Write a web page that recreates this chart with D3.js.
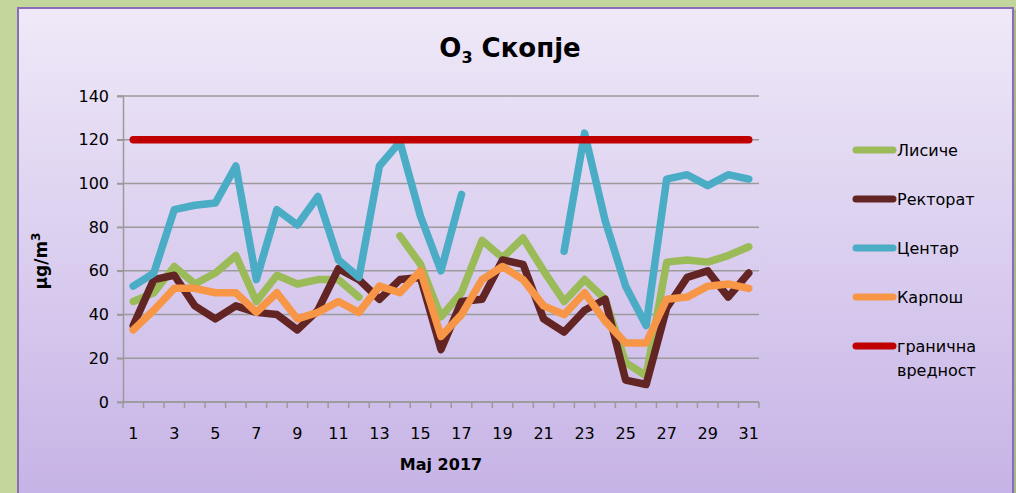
<!DOCTYPE html>
<html>
<head>
<meta charset="utf-8">
<script src="https://cdn.jsdelivr.net/npm/d3@7"></script>
<style>
  html, body { margin: 0; padding: 0; background: #c3d69b; }
  svg { display: block; }
</style>
</head>
<body>
<svg></svg>
<script>
var days = d3.range(1, 32);
var yTicks = [0, 20, 40, 60, 80, 100, 120, 140];

var lisice = [46, 50, 62, 54, 59, 67, 46, 58, 54, 56, 56, 48, null, 76, 63, 39, 50, 74, 66, 75, 60, 46, 56, 47, 18, 12, 64, 65, 64, 67, 71];
var rektorat = [35, 56, 58, 44, 38, 44, 41, 40, 33, 42, 61, 56, 47, 56, 57, 24, 46, 47, 65, 63, 38, 32, 42, 47, 10, 8, 43, 57, 60, 48, 59];
var centar = [53, 59, 88, 90, 91, 108, 56, 88, 81, 94, 65, 57, 108, 119, 85, 60, 95, null, null, null, null, 69, 123, 83, 53, 35, 102, 104, 99, 104, 102];
var karpos = [33, 42, 52, 52, 50, 50, 41, 50, 38, 41, 46, 41, 53, 50, 60, 30, 40, 56, 62, 56, 44, 40, 50, 37, 27, 27, 47, 48, 53, 54, 52];
var granica = days.map(function() { return 120; });

var seriesNames = ["Лисиче", "Ректорат", "Центар", "Карпош", "гранична вредност"];
var seriesColors = ["#9bbb59", "#632523", "#4bacc6", "#f79646", "#c00000"];
var seriesValues = [lisice, rektorat, centar, karpos, granica];

var width = 1016;
var height = 493;
var plot = { left: 123, right: 759, top: 96, bottom: 402 };

var svg = d3.select("svg")
    .attr("width", width)
    .attr("height", height);

var defs = svg.append("defs");
var grad = defs.append("linearGradient")
    .attr("id", "bg")
    .attr("x1", 0).attr("y1", 0).attr("x2", 0).attr("y2", 1);
grad.append("stop").attr("offset", "0%").attr("stop-color", "#efe9f8");
grad.append("stop").attr("offset", "100%").attr("stop-color", "#c6b3e6");

// chart frame
svg.append("rect")
    .attr("x", 20).attr("y", 10)
    .attr("width", 996).attr("height", 490)
    .attr("fill", "#a9b88a");
svg.append("rect")
    .attr("x", 18).attr("y", 8)
    .attr("width", 995).attr("height", 490)
    .attr("fill", "url(#bg)")
    .attr("stroke", "#8a6cbb")
    .attr("stroke-width", 2);

var xScale = d3.scaleBand()
    .domain(days)
    .range([plot.left, plot.right]);

var yScale = d3.scaleLinear()
    .domain([0, 140])
    .range([plot.bottom, plot.top]);

// gridlines
svg.append("g")
  .selectAll("line")
  .data(yTicks)
  .enter()
  .append("line")
    .attr("x1", plot.left - 6)
    .attr("x2", plot.right)
    .attr("y1", d => yScale(d))
    .attr("y2", d => yScale(d))
    .attr("stroke", "#9a9a9a")
    .attr("stroke-width", 1.5);

var yAxis = d3.axisLeft(yScale)
    .tickValues(yTicks)
    .tickSize(6)
    .tickPadding(8);

var gy = svg.append("g")
    .attr("transform", "translate(" + plot.left + ",0)")
    .call(yAxis);
gy.select(".domain").attr("stroke", "#9a9a9a").attr("stroke-width", 1.5);
gy.selectAll(".tick line").attr("stroke", "#9a9a9a").attr("stroke-width", 1.5);
gy.selectAll("text")
    .style("font-family", "'DejaVu Sans'")
    .style("font-size", "16px")
    .attr("fill", "#000");

// x axis with ticks on category boundaries
var gx = svg.append("g")
    .attr("transform", "translate(0," + plot.bottom + ")");
gx.append("line")
    .attr("x1", plot.left).attr("x2", plot.right)
    .attr("stroke", "#9a9a9a").attr("stroke-width", 1.5);
gx.selectAll("line.tk")
  .data(days.concat([32]))
  .enter()
  .append("line")
    .attr("class", "tk")
    .attr("x1", d => d <= 31 ? xScale(d) : plot.right)
    .attr("x2", d => d <= 31 ? xScale(d) : plot.right)
    .attr("y1", 0).attr("y2", 6)
    .attr("stroke", "#9a9a9a").attr("stroke-width", 1.5);
gx.selectAll("text")
  .data(days.filter(d => d % 2 === 1))
  .enter()
  .append("text")
    .text(d => d)
    .attr("x", d => xScale(d) + xScale.bandwidth() / 2)
    .attr("y", 37)
    .style("text-anchor", "middle")
    .style("font-family", "'DejaVu Sans'")
    .style("font-size", "16px");

// series lines
var line = d3.line()
    .defined(d => d.v !== null)
    .x(d => xScale(d.day) + xScale.bandwidth() / 2)
    .y(d => yScale(d.v));

seriesValues.forEach(function(vals, i) {
  svg.append("path")
      .datum(vals.map((v, j) => ({ day: days[j], v: v })))
      .attr("d", line)
      .attr("fill", "none")
      .attr("stroke", seriesColors[i])
      .attr("stroke-width", 7.5)
      .attr("stroke-linecap", "round")
      .attr("stroke-linejoin", "round");
});

// title
var title = svg.append("text")
    .attr("x", 510)
    .attr("y", 57)
    .style("text-anchor", "middle")
    .style("font-family", "'DejaVu Sans'")
    .style("font-weight", "bold")
    .style("font-size", "26px");
title.append("tspan").text("O");
title.append("tspan").text("3").attr("dy", 6).style("font-size", "16px");
title.append("tspan").text(" Скопје").attr("dy", -6);

// axis titles
var yl = svg.append("text")
    .attr("transform", "translate(47," + ((plot.top + plot.bottom) / 2 + 12) + ") rotate(-90)")
    .style("text-anchor", "middle")
    .style("font-family", "'DejaVu Sans'")
    .style("font-weight", "bold")
    .style("font-size", "17px");
yl.append("tspan").text("μg/m");
yl.append("tspan").text("3").attr("dy", -7).style("font-size", "12px");

svg.append("text")
    .text("Maj 2017")
    .attr("x", 441)
    .attr("y", 470)
    .style("text-anchor", "middle")
    .style("font-family", "'DejaVu Sans'")
    .style("font-weight", "bold")
    .style("font-size", "16px");

// legend
var legendY = [150, 199, 248, 297, 346];
var legend = svg.append("g");
seriesNames.forEach(function(name, i) {
  legend.append("line")
      .attr("x1", 856).attr("x2", 893)
      .attr("y1", legendY[i]).attr("y2", legendY[i])
      .attr("stroke", seriesColors[i])
      .attr("stroke-width", 7)
      .attr("stroke-linecap", "round");
  var words = name.split(" ");
  words.forEach(function(w, k) {
    legend.append("text")
        .text(w)
        .attr("x", 897)
        .attr("y", legendY[i] + 6 + k * 24)
        .style("font-family", "'DejaVu Sans'")
        .style("font-size", "16px");
  });
});
</script>
</body>
</html>
